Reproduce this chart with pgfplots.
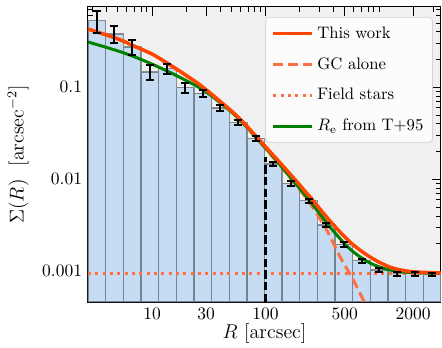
\documentclass[border=0pt]{standalone}
\usepackage{pgfplots}
\pgfplotsset{compat=1.18}
\definecolor{thiswork}{RGB}{255,69,0}
\definecolor{gcorange}{RGB}{255,112,67}
\definecolor{tgreen}{RGB}{0,128,0}
\definecolor{barblue}{RGB}{198,220,242}
\definecolor{bgray}{RGB}{240,240,240}
\begin{document}
\begin{tikzpicture}
\useasboundingbox (0,0) rectangle (265.2pt,208.8pt);
\begin{axis}[
  at={(52.8pt,27.6pt)}, anchor=south west,
  scale only axis, width=211.8pt, height=177pt,
  xmode=log, ymode=log, log origin y=infty,
  xmin=2.729, xmax=3516, ymin=0.000464, ymax=0.746,
  axis background/.style={fill=bgray},
  axis line style={black, line width=0.6pt},
  tick align=inside, xtick pos=both, ytick pos=both,
  major tick length=5.5pt, minor tick length=3pt,
  tick style={black, line width=0.5pt},
  xtick={10,30,100,500,2000}, xticklabels={10,30,100,500,2000},
  minor xtick={3,4,5,6,7,8,9,20,40,50,60,70,80,90,200,300,400,600,700,800,900,1000,3000},
  ytick={0.001,0.01,0.1}, yticklabels={0.001,0.01,0.1},
  minor ytick={0.0005,0.0006,0.0007,0.0008,0.0009,0.002,0.003,0.004,0.005,0.006,0.007,0.008,0.009,0.02,0.03,0.04,0.05,0.06,0.07,0.08,0.09,0.2,0.3,0.4,0.5,0.6,0.7},
  tick label style={font=\fontsize{10.5}{12}\selectfont},
  label style={font=\fontsize{12}{14}\selectfont},
  xlabel={$R$ [arcsec]},
  ylabel={$\Sigma(R)$\ \ [arcsec$^{-2}$]},
  xlabel style={at={(axis description cs:0.5,0)}, anchor=center, yshift=-18.6pt},
  ylabel style={at={(axis description cs:-0.198,0.5)}, anchor=center},
  legend style={at={(0.977,0.966)}, anchor=north east, fill=white, fill opacity=0.8, text opacity=1,
    draw=gray!35, rounded corners=2pt, font=\fontsize{10}{12}\selectfont, row sep=6pt,
    inner xsep=3.5pt, inner ysep=3.5pt},
  legend cell align=left,
  legend image code/.code={\draw[#1] (0cm,0cm) -- (0.82cm,0cm);},
]
% histogram bars
\addplot[forget plot, ybar interval, fill=barblue, draw=black, draw opacity=0.4, line width=0.8pt] coordinates {
(2.729,0.532) (3.904,0.380) (5.585,0.2735) (7.990,0.147) (11.43,0.159)
(16.35,0.0997) (23.39,0.0863) (33.46,0.0597) (47.86,0.0412) (68.48,0.0279)
(97.95,0.0147) (140.1,0.00906) (200.4,0.00585) (286.8,0.00319) (410.2,0.00197)
(586.9,0.00130) (839.5,0.00103) (1201,0.00094) (1718,0.00094) (2458,0.00093)
(3516,0.00093)
};
% GC alone
\addplot[forget plot, gcorange, line width=1.8pt, dash pattern=on 6pt off 3pt, smooth, tension=0.5] coordinates {
(2.73,0.429) (5.02,0.334) (6.80,0.283) (10,0.229) (13.56,0.1827) (19.53,0.1366)
(26.48,0.105) (38.15,0.0726) (59.6,0.0443) (116.4,0.01742) (164.4,0.01048)
(246.6,0.00548) (346,0.00281) (453,0.00144) (594,0.000803) (728,0.000488) (850,0.00033)
};
% Field stars
\addplot[forget plot, gcorange, line width=1.8pt, dash pattern=on 1.8pt off 2.6pt] coordinates {
(2.729,0.00095) (3516,0.00095)
};
% R_e from T+95
\addplot[forget plot, tgreen, line width=1.8pt, smooth, tension=0.5] coordinates {
(2.73,0.3108) (5.02,0.248) (7.84,0.203) (13.56,0.1504) (26.48,0.0983) (38.15,0.0710)
(59.6,0.0441) (116.4,0.0177) (164.4,0.0106) (246.6,0.00581) (370.1,0.00303)
(555.3,0.001745) (833.4,0.00123) (1250,0.001032) (1876,0.000971) (3516,0.000953)
};
% This work
\addplot[forget plot, thiswork, line width=2.1pt, smooth, tension=0.5] coordinates {
(2.73,0.430) (5.02,0.335) (6.80,0.284) (10,0.230) (13.56,0.1836) (19.53,0.1375)
(26.48,0.106) (38.15,0.0735) (59.6,0.0452) (116.4,0.01837) (164.4,0.01143)
(246.6,0.00643) (370.1,0.003524) (555.3,0.00208) (833.4,0.00143) (1250,0.00111)
(1876,0.000995) (3516,0.000958)
};
% vertical dashed line at R = 100
\addplot[forget plot, black, line width=1.5pt, dash pattern=on 5pt off 2pt] coordinates {
(100,0.000464) (100,0.0175)
};
% data with error bars
\addplot[forget plot, draw=none, mark=none,
  error bars/.cd, y dir=both, y explicit,
  error bar style={draw=black, line width=1.2pt, solid},
  error mark options={draw=black, rotate=90, mark size=2.4pt, line width=1.2pt}]
  table[x=x, y=y, y error=e] {
x y e
3.265 0.532 0.143
4.670 0.380 0.080
6.680 0.2735 0.050
9.556 0.147 0.027
13.67 0.159 0.020
19.55 0.0997 0.0123
27.97 0.0863 0.0072
40.02 0.0597 0.0040
57.24 0.0412 0.0025
81.88 0.0279 0.0016
117.1 0.0147 0.0008
167.6 0.00906 0.0005
239.7 0.00585 0.00033
342.9 0.00319 0.00018
490.5 0.00197 0.00011
701.7 0.00130 0.00007
1004 0.00103 0.00005
1436 0.00094 0.00005
2055 0.00094 0.00004
2939 0.00093 0.00004
};
\addlegendimage{thiswork, line width=2.1pt}
\addlegendentry{This work}
\addlegendimage{gcorange, line width=1.8pt, dash pattern=on 6pt off 3pt}
\addlegendentry{GC alone}
\addlegendimage{gcorange, line width=1.8pt, dash pattern=on 1.8pt off 2.6pt}
\addlegendentry{Field stars}
\addlegendimage{tgreen, line width=1.8pt}
\addlegendentry{$R_\mathrm{e}$ from T+95}
\end{axis}
\end{tikzpicture}
\end{document}
